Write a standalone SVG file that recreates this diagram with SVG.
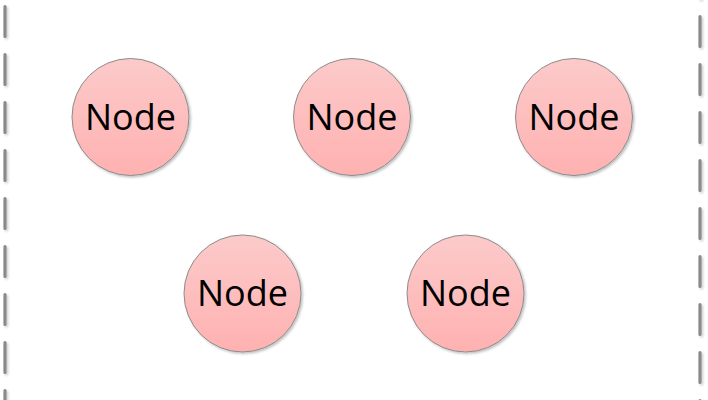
<svg xmlns="http://www.w3.org/2000/svg" width="708" height="400" viewBox="0 0 708 400">
  <defs>
    <linearGradient id="fillGrad" x1="0" y1="0" x2="0" y2="1">
      <stop offset="0" stop-color="#fccaca"/>
      <stop offset="1" stop-color="#ffb1b1"/>
    </linearGradient>
    <filter id="shadow" x="-20%" y="-20%" width="140%" height="140%">
      <feDropShadow dx="1.5" dy="1.5" stdDeviation="1.2" flood-color="#000" flood-opacity="0.25"/>
    </filter>
    <filter id="lineShadow" filterUnits="userSpaceOnUse" x="-10" y="-10" width="728" height="420">
      <feDropShadow dx="1.5" dy="1.5" stdDeviation="1" flood-color="#000" flood-opacity="0.2"/>
    </filter>
  </defs>
  <style>
    .node circle { fill: url(#fillGrad); stroke: #8c8c8c; stroke-width: 1; filter: url(#shadow); }
    .node text { font-family: "Open Sans", "Liberation Sans", sans-serif; font-size: 36px; fill: #000; text-anchor: middle; }
    .border { stroke: #8a8a8a; stroke-width: 3.2; stroke-linecap: round; stroke-dasharray: 30 18; fill: none; }
  </style>
  <rect width="708" height="400" fill="#ffffff"/>
  <g id="borders" filter="url(#lineShadow)">
    <line class="border" x1="5" y1="6.5" x2="5" y2="420"/>
    <line class="border" x1="700" y1="-31.5" x2="700" y2="420"/>
  </g>
  <g id="connectors"></g>
  <g id="node1" class="node">
    <circle cx="130.5" cy="117" r="58.5"/>
    <text x="130.5" y="129.5">Node</text>
  </g>
  <g id="node2" class="node">
    <circle cx="352" cy="117" r="58.5"/>
    <text x="352" y="129.5">Node</text>
  </g>
  <g id="node3" class="node">
    <circle cx="574" cy="117" r="58.5"/>
    <text x="574" y="129.5">Node</text>
  </g>
  <g id="node4" class="node">
    <circle cx="242.5" cy="293.5" r="58.5"/>
    <text x="242.5" y="306">Node</text>
  </g>
  <g id="node5" class="node">
    <circle cx="465.5" cy="293.5" r="58.5"/>
    <text x="465.5" y="306">Node</text>
  </g>
</svg>
